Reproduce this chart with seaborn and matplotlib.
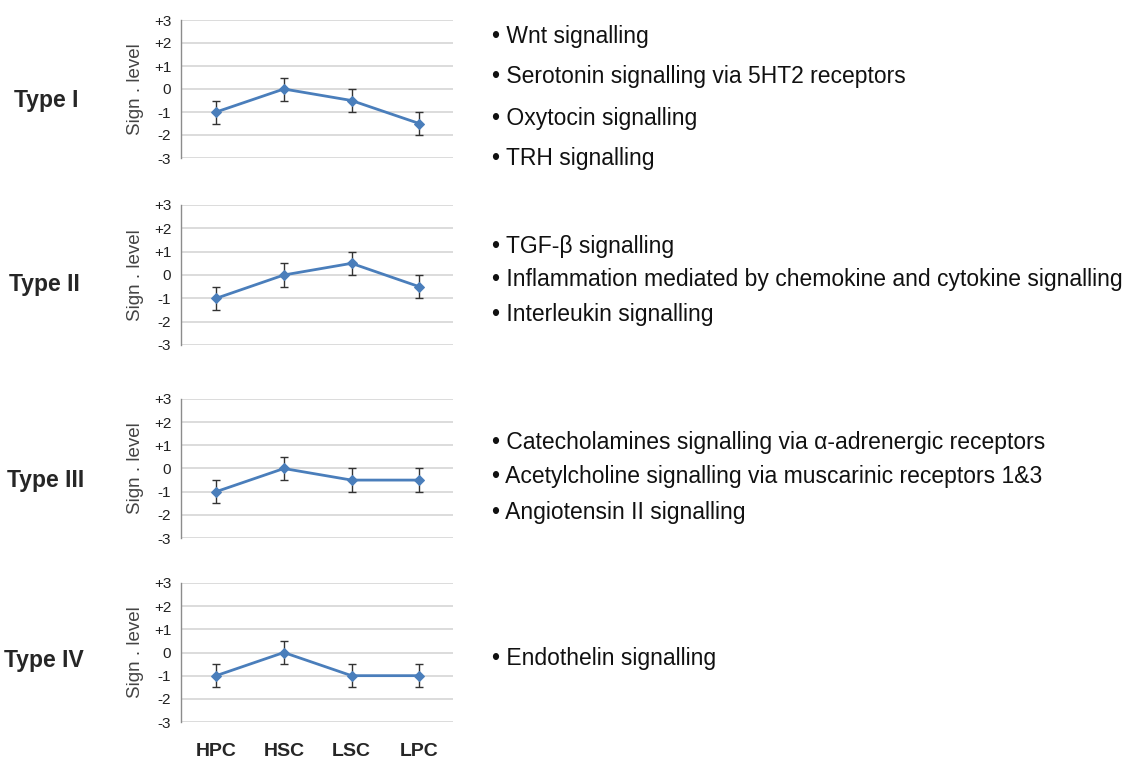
import matplotlib
matplotlib.use("Agg")
import matplotlib.pyplot as plt
import seaborn as sns
import pandas as pd
import numpy as np

categories = ["HPC", "HSC", "LSC", "LPC"]
type_labels = ["Type I", "Type II", "Type III", "Type IV"]
values_I = [-1.0, 0.0, -0.5, -1.5]
values_II = [-1.0, 0.0, 0.5, -0.5]
values_III = [-1.0, 0.0, -0.5, -0.5]
values_IV = [-1.0, 0.0, -1.0, -1.0]
errors_I = [0.5, 0.5, 0.5, 0.5]
errors_II = [0.5, 0.5, 0.5, 0.5]
errors_III = [0.5, 0.5, 0.5, 0.5]
errors_IV = [0.5, 0.5, 0.5, 0.5]
ytick_values = [-3, -2, -1, 0, 1, 2, 3]
ytick_labels = ["-3", "-2", "-1", "0", "+1", "+2", "+3"]
pathways_I = ["Wnt signalling", "Serotonin signalling via 5HT2 receptors",
              "Oxytocin signalling", "TRH signalling"]
pathways_II = ["TGF-β signalling",
               "Inflammation mediated by chemokine and cytokine signalling",
               "Interleukin signalling"]
pathways_III = ["Catecholamines signalling via α-adrenergic receptors",
                "Acetylcholine signalling via muscarinic receptors 1&3",
                "Angiotensin II signalling"]
pathways_IV = ["Endothelin signalling"]

all_values = [values_I, values_II, values_III, values_IV]
all_errors = [errors_I, errors_II, errors_III, errors_IV]
all_paths = [pathways_I, pathways_II, pathways_III, pathways_IV]

sns.set_style("white")
plt.rcParams["font.family"] = ["Liberation Sans", "DejaVu Sans"]

W, H = 1134, 761
fig = plt.figure(figsize=(W / 100, H / 100), dpi=100)

# panel pixel geometry (top, bottom) of +3 / -3 gridlines
panels = [(20, 158), (205, 345), (399, 538), (583, 722)]
left_px, right_px = 181, 453
# text y positions (px) for pathway lines
text_ys = [[37, 77, 118, 159], [246, 280, 315], [443, 477, 512], [659]]
type_ys = [101, 284, 481, 661]
type_xs = [14, 9, 7, 4]

line_color = "#4a7ebb"

for i, (top, bot) in enumerate(panels):
    ax = fig.add_axes([left_px / W, 1 - bot / H, (right_px - left_px) / W, (bot - top) / H])
    df = pd.DataFrame({"pos": np.arange(len(categories)), "value": all_values[i]})
    ax.errorbar(df["pos"], df["value"], yerr=all_errors[i], fmt="none",
                ecolor="#333333", elinewidth=1.0, capsize=3, capthick=1.0, zorder=3)
    sns.lineplot(data=df, x="pos", y="value", ax=ax, color=line_color,
                 marker="D", markersize=5.5, markeredgecolor=line_color,
                 linewidth=2, zorder=4)
    ax.set_xlim(-0.52, 3.5)
    ax.set_ylim(-3, 3)
    ax.set_yticks(ytick_values)
    ax.set_yticklabels(ytick_labels, fontsize=11, color="#222222")
    ax.yaxis.grid(True, color="#d9d9d9", linewidth=1.3)
    ax.set_axisbelow(True)
    for s in ["top", "right", "bottom"]:
        ax.spines[s].set_visible(False)
    ax.spines["left"].set_color("#8c8c8c")
    ax.spines["left"].set_linewidth(1.0)
    ax.tick_params(axis="y", length=4, color="#8c8c8c", width=1.0, pad=3)
    ax.set_ylabel("Sign . level", fontsize=13.5, color="#444444", labelpad=7)
    ax.set_xlabel("")
    if i == len(panels) - 1:
        ax.set_xticks(np.arange(len(categories)))
        ax.set_xticklabels(categories, fontsize=14, fontweight="bold")
        ax.tick_params(axis="x", length=0, pad=15)
    else:
        ax.set_xticks([])

    fig.text(type_xs[i] / W, 1 - type_ys[i] / H, type_labels[i], fontsize=16.5,
             fontweight="bold", va="center", ha="left")
    for txt, ty in zip(all_paths[i], text_ys[i]):
        fig.text(492 / W, 1 - ty / H, "• " + txt, fontsize=16.5,
                 va="center", ha="left", color="#111111")

fig.savefig("out.png", dpi=100)
